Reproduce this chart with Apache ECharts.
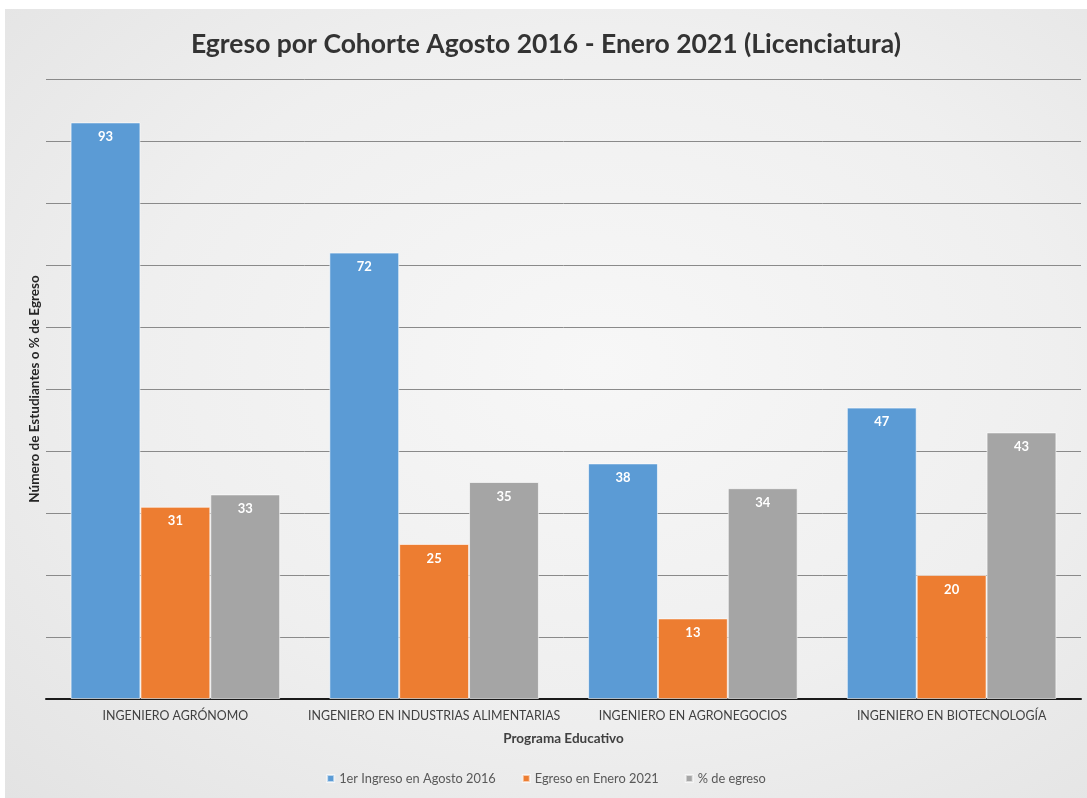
<!DOCTYPE html>
<html>
<head>
<meta charset="utf-8">
<script src="https://cdn.jsdelivr.net/npm/echarts@6/dist/echarts.min.js"></script>
<style>
  html, body { margin: 0; padding: 0; background: #ffffff; }
  #chart {
    position: absolute; left: 5px; top: 9px; width: 1082px; height: 789px;
    background: radial-gradient(ellipse at 55% 45%, #f7f7f7 0%, #efefef 55%, #e3e3e3 100%);
  }
</style>
</head>
<body>
<div id="chart"></div>
<script>
const categories = [
  'INGENIERO AGRÓNOMO',
  'INGENIERO EN INDUSTRIAS ALIMENTARIAS',
  'INGENIERO EN AGRONEGOCIOS',
  'INGENIERO EN BIOTECNOLOGÍA'
];
const ingreso2016 = [93, 72, 38, 47];
const egreso2021 = [31, 25, 13, 20];
const pctEgreso = [33, 35, 34, 43];

const seriesNames = ['1er Ingreso en Agosto 2016', 'Egreso en Enero 2021', '% de egreso'];
const colors = ['#5b9bd5', '#ed7d31', '#a5a5a5'];

const chart = echarts.init(document.getElementById('chart'));

function barSeries(name, data, color) {
  return {
    name: name,
    type: 'bar',
    data: data,
    barGap: '0%',
    barCategoryGap: '19%',
    itemStyle: { color: color, borderColor: 'rgba(255,255,255,0.6)', borderWidth: 1 },
    label: {
      show: true,
      position: 'insideTop',
      distance: 8,
      color: '#ffffff',
      fontWeight: 'bold',
      fontSize: 13,
      fontFamily: 'Lato'
    }
  };
}

chart.setOption({
  animation: false,
  title: {
    text: 'Egreso por Cohorte Agosto 2016 - Enero 2021 (Licenciatura)',
    left: 'center',
    top: 17,
    textStyle: { fontFamily: 'Lato', fontWeight: 'bold', fontSize: 26.5, color: '#333333' }
  },
  legend: {
    bottom: 8,
    left: 'center',
    itemWidth: 7,
    itemHeight: 7,
    itemGap: 26,
    icon: 'rect',
    textStyle: { fontFamily: 'Lato', fontSize: 12.8, color: '#595959' }
  },
  grid: { left: 41, right: 6, top: 70, bottom: 99 },
  xAxis: {
    type: 'category',
    data: categories,
    name: 'Programa Educativo',
    nameLocation: 'middle',
    nameGap: 33,
    nameTextStyle: { fontFamily: 'Lato', fontWeight: 'bold', fontSize: 13.5, color: '#404040' },
    axisLine: { lineStyle: { color: '#1a1a1a', width: 2 } },
    axisTick: { show: false },
    axisLabel: { interval: 0, fontFamily: 'Lato', fontSize: 12.4, color: '#404040', margin: 11 }
  },
  yAxis: {
    type: 'value',
    min: 0,
    max: 100,
    interval: 10,
    name: 'Número de Estudiantes o % de Egreso',
    nameLocation: 'middle',
    nameGap: 4,
    nameTextStyle: { fontFamily: 'Lato', fontWeight: 'bold', fontSize: 13.5, color: '#262626' },
    axisLabel: { show: false },
    axisLine: { show: false },
    axisTick: { show: false },
    splitLine: { lineStyle: { color: '#8a8a8a', width: 1 } }
  },
  series: [
    barSeries(seriesNames[0], ingreso2016, colors[0]),
    barSeries(seriesNames[1], egreso2021, colors[1]),
    barSeries(seriesNames[2], pctEgreso, colors[2])
  ]
});
</script>
</body>
</html>
